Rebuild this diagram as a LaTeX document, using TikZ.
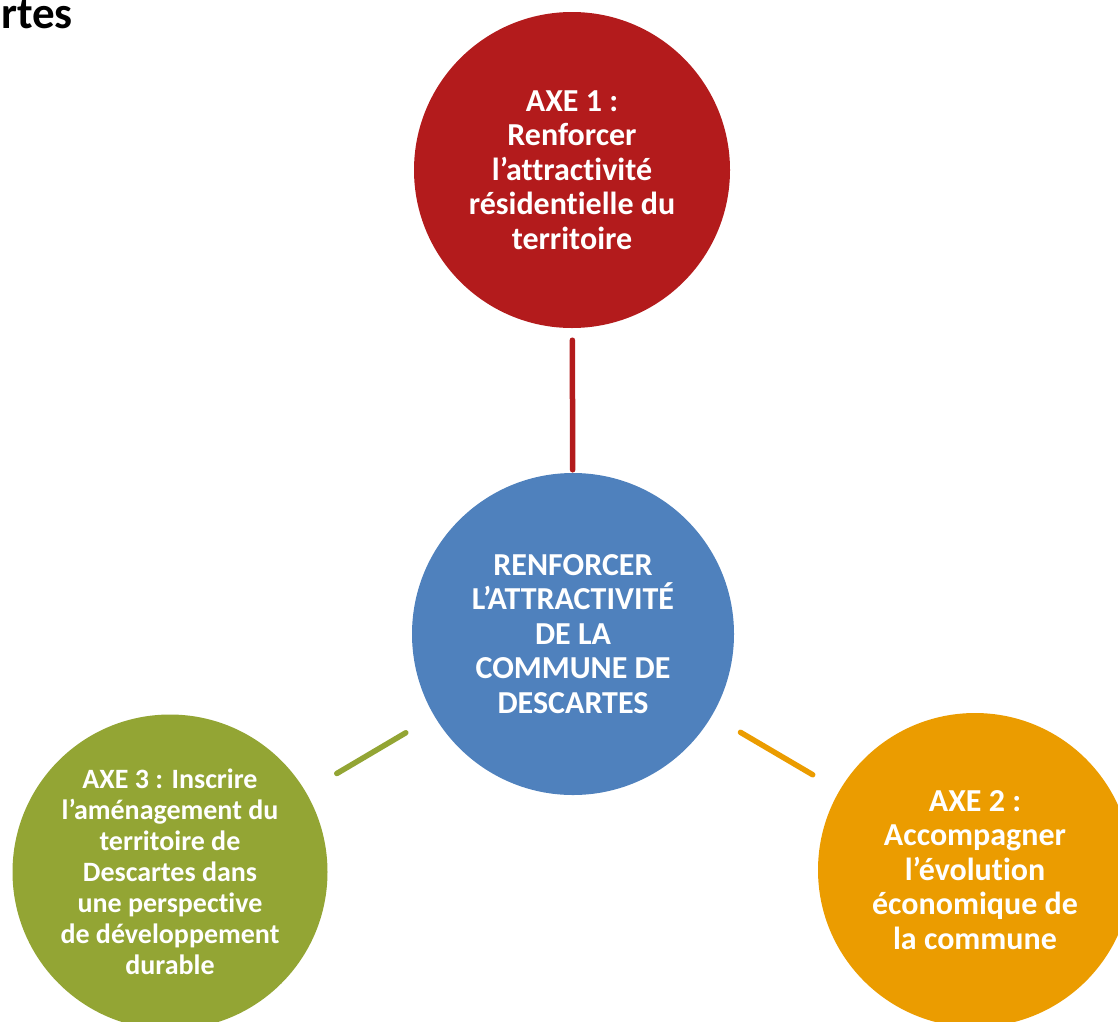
\documentclass[tikz,border=0pt]{standalone}
\usepackage{fontspec}
\setmainfont{Carlito}[Ligatures={NoCommon}]
\definecolor{axered}{HTML}{B31B1C}
\definecolor{axeblue}{HTML}{4F81BD}
\definecolor{axegreen}{HTML}{93A534}
\definecolor{axeorange}{HTML}{EB9C00}
\tikzset{
  axe/.style={circle, inner sep=0pt, minimum size=#1, text=white,
    font=\fontsize{32}{34.6}\selectfont\bfseries, align=center},
  smalltext/.style={font=\fontsize{28}{31}\selectfont\bfseries},
  link/.style={line width=5.5pt, line cap=round},
}
\begin{document}
\begin{tikzpicture}[x=1pt, y=-1pt]
  \useasboundingbox (0,0) rectangle (1118,1021);
  \clip (0,0) rectangle (1118,1021);
  % heading, cut off at the left edge
  \node[anchor=base east, inner sep=0pt, font=\fontsize{45}{54}\selectfont\bfseries] (title) at (73,28) {rtes};
  % the four circles
  \node[axe=316pt, fill=axered] (axe1) at (572,170)
    {AXE 1 :\\Renforcer\\l’attractivité\\résidentielle du\\territoire};
  \node[axe=322pt, fill=axeblue] (centre) at (573,634)
    {RENFORCER\\L’ATTRACTIVITÉ\\DE LA\\COMMUNE DE\\DESCARTES};
  \node[axe=315pt, fill=axegreen, smalltext] (axe3) at (170,872)
    {AXE 3 : Inscrire\\l’aménagement du\\territoire de\\Descartes dans\\une perspective\\de développement\\durable};
  \node[axe=314pt, fill=axeorange] (axe2) at (975,870)
    {AXE 2 :\\Accompagner\\l’évolution\\économique de\\la commune};
  % connectors from the centre to each axis
  \draw[link, axered, shorten <=3pt, shorten >=12pt] (centre) -- (axe1);
  \draw[link, axegreen, shorten <=33pt, shorten >=36pt] (centre) -- (axe3);
  \draw[link, axeorange, shorten <=33pt, shorten >=31pt] (centre) -- (axe2);
\end{tikzpicture}
\end{document}
